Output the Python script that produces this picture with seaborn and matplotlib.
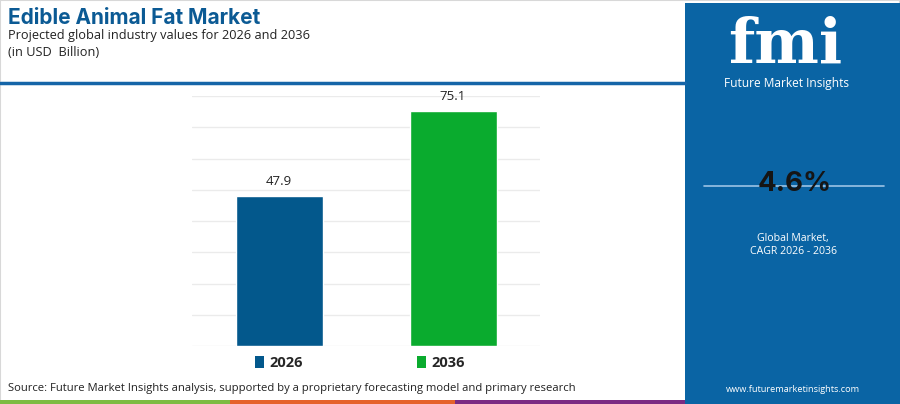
import pandas as pd
import numpy as np
import matplotlib.pyplot as plt
import seaborn as sns
from matplotlib.patches import Patch, Rectangle

# data
years = ["2026", "2036"]
values = [47.9, 75.1]
bar_colors = ["#03588c", "#0aab2e"]
cagr = "4.6%"

W, H = 900, 404
sns.set_theme(style="white")
plt.rcParams['font.family'] = ['Open Sans', 'DejaVu Sans']

fig = plt.figure(figsize=(W / 100, H / 100), dpi=100)
fig.patch.set_facecolor("white")

def px(x, y):
    # pixel coords (top-left origin) -> figure fraction
    return x / W, 1 - y / H

# frame + right blue panel
fig.add_artist(Rectangle((0, 0), 1, 1, transform=fig.transFigure, fill=False,
                         edgecolor="#d8d8d8", lw=1.5))
fig.add_artist(Rectangle(px(685, 404), 215 / W, 401 / H, transform=fig.transFigure,
                         facecolor="#0a64a4", edgecolor="none"))

# blue rule under header
fig.add_artist(plt.Line2D([0, 685 / W], [1 - 83 / H] * 2, transform=fig.transFigure,
                          color="#1565a8", lw=2.5))

# bottom colour stripe
for x0, x1, c in [(0, 230, "#7dbb42"), (230, 455, "#e5622b"), (455, 685, "#7b2b83")]:
    fig.add_artist(Rectangle(px(x0, 404), (x1 - x0) / W, 4 / H, transform=fig.transFigure,
                             facecolor=c, edgecolor="none"))

# header texts
fig.text(*px(8, 18), "Edible Animal Fat Market", fontsize=15, fontweight="bold",
         color="#0b5a94", va="center", ha="left", family=["Inter", "DejaVu Sans"])
fig.text(*px(8, 35), "Projected global industry values for 2026 and 2036", fontsize=9.2,
         color="#222222", va="center", ha="left")
fig.text(*px(8, 53), "(in USD  Billion)", fontsize=9.2, color="#222222", va="center", ha="left")

# main bar chart
ax = fig.add_axes([192 / W, 58 / H, 348 / W, 250 / H])
df = pd.DataFrame({"year": years, "value": values})
sns.barplot(data=df, x="year", y="value", hue="year", palette=bar_colors,
            width=0.5, legend=False, ax=ax, saturation=1)
ax.set_ylim(0, 80)
ax.set_xlim(-0.5, 1.5)
ax.set_yticks(np.arange(0, 81, 10))
ax.yaxis.grid(True, color="#ebebeb", lw=1)
ax.set_axisbelow(True)
ax.tick_params(left=False, bottom=False, labelleft=False, labelbottom=False)
ax.set_xlabel("")
ax.set_ylabel("")
for s in ax.spines.values():
    s.set_visible(False)
for cont in ax.containers:
    ax.bar_label(cont, fmt="%.1f", padding=6, fontsize=9.5, color="#222222")

# legend
handles = [Patch(facecolor=c, edgecolor="none") for c in bar_colors]
fig.legend(handles, years, loc="center", bbox_to_anchor=px(360, 363), ncol=2,
           frameon=False, handlelength=0.6, handleheight=0.9, handletextpad=0.4,
           columnspacing=7.8, prop={"weight": "bold", "size": 10.5})

fig.text(*px(8, 388), "Source: Future Market Insights analysis, supported by a proprietary "
         "forecasting model and primary research", fontsize=8.1, color="#222222",
         va="center", ha="left")

# right panel: logo and CAGR
fig.text(*px(785, 46), "fmi", fontsize=44, fontweight="bold", color="white",
         family=["DejaVu Serif"], va="center", ha="center")
fig.text(*px(786, 83), "Future Market Insights", fontsize=8.6, color="white",
         va="center", ha="center")
fig.add_artist(plt.Line2D([704 / W, 884 / W], [1 - 186 / H] * 2, transform=fig.transFigure,
                          color="#9cc3e6", lw=1.2))
fig.text(*px(795, 184), cagr, fontsize=20, fontweight="bold", color="#151515",
         va="center", ha="center", family=["Inter", "DejaVu Sans"])
fig.text(*px(793, 238), "Global Market,", fontsize=7.6, color="white", va="center", ha="center")
fig.text(*px(793, 251), "CAGR 2026 - 2036", fontsize=7.6, color="white", va="center", ha="center")
fig.text(*px(793, 389), "www.futuremarketinsights.com", fontsize=6.6, color="white",
         va="center", ha="center")

fig.savefig("out.png", dpi=100)
